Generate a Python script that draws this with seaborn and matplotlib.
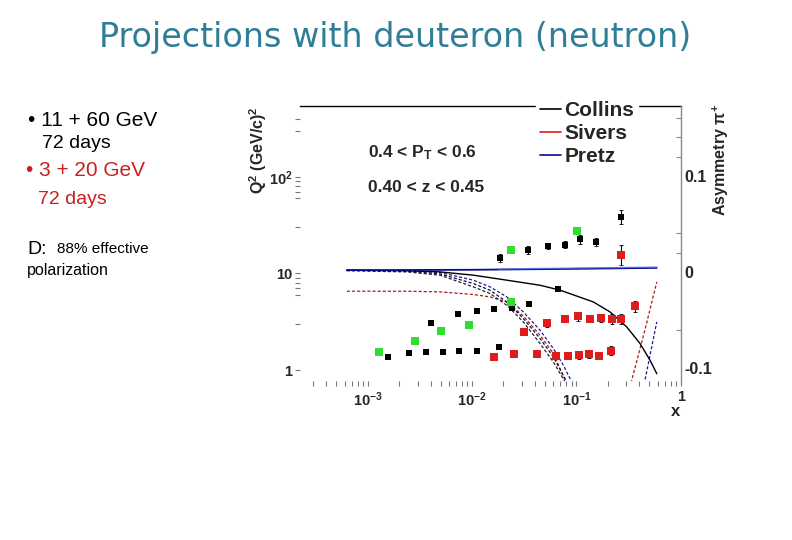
import numpy as np
import matplotlib
matplotlib.use("Agg")
import matplotlib.pyplot as plt
from matplotlib.ticker import FixedLocator, NullFormatter, LogLocator
from matplotlib.lines import Line2D
import seaborn as sns

# ---------------- data ----------------
# kinematic coverage <Q^2> vs x (left axis), no error bars
cov_black_x = [0.00157, 0.00249, 0.00362, 0.00524, 0.0075, 0.01117, 0.0183,
               0.00402, 0.00734, 0.0111, 0.01625, 0.024, 0.0354, 0.0664]
cov_black_q2 = [1.36, 1.49, 1.52, 1.52, 1.57, 1.57, 1.74,
                3.08, 3.77, 4.08, 4.28, 4.38, 4.79, 6.94]
cov_green_x = [0.00129, 0.00284, 0.00508, 0.00942, 0.0237, 0.0237, 0.101]
cov_green_q2 = [1.52, 1.98, 2.51, 2.90, 5.05, 17.3, 27.4]

# projected asymmetries (right axis) with errors
asym_black_x = [0.0187, 0.0342, 0.0536, 0.0775, 0.109, 0.155, 0.267]
asym_black = [0.0146, 0.0226, 0.0268, 0.0285, 0.0338, 0.0312, 0.0573]
asym_black_err = [0.0045, 0.004, 0.003, 0.004, 0.0045, 0.0045, 0.007]

asym_red_x = [0.0316, 0.0527, 0.0775, 0.1045, 0.136, 0.174, 0.218, 0.270, 0.363, 0.268,
              0.01614, 0.0251, 0.0417, 0.0634, 0.0827, 0.107, 0.133, 0.164, 0.214]
asym_red = [-0.0621, -0.0534, -0.0486, -0.0461, -0.0486, -0.0483, -0.0493, -0.0493, -0.0357, 0.0174,
            -0.0889, -0.0857, -0.0857, -0.0871, -0.0871, -0.0868, -0.0857, -0.0871, -0.0819]
asym_red_err = [0.004, 0.004, 0.004, 0.0045, 0.004, 0.004, 0.005, 0.005, 0.0055, 0.0104,
                0.003, 0.003, 0.002, 0.003, 0.004, 0.004, 0.004, 0.004, 0.005]

# model curves (right axis)
collins_x = [0.00063, 0.00237, 0.00493, 0.01028, 0.02153, 0.0449, 0.0698, 0.1456, 0.2104,
             0.304, 0.408, 0.509, 0.590]
collins_a = [0.0018, 0.0012, 0.0000, -0.0034, -0.0086, -0.0139, -0.019, -0.0313, -0.0417,
             -0.0573, -0.0746, -0.092, -0.1059]
pretz_x = [0.00063, 0.01, 0.1, 0.590]
pretz_a = [0.0018, 0.0022, 0.0032, 0.0042]
pretz_hi_x = [0.018, 0.1, 0.59]
pretz_hi_a = [0.0030, 0.0040, 0.0050]

dash_blue_x = [0.00063, 0.00237, 0.00493, 0.01028, 0.01489, 0.02153, 0.03105, 0.04487,
               0.06023, 0.07506, 0.0903]
dash_blue_a = [0.0018, 0.0012, -0.0006, -0.0086, -0.0156, -0.0260, -0.0417, -0.0607,
               -0.0798, -0.0972, -0.1146]
dash_black1_x = [0.00063, 0.00237, 0.00493, 0.01028, 0.01489, 0.02153, 0.03105, 0.04487,
                 0.06023, 0.08088]
dash_black1_a = [0.0018, 0.0008, -0.0021, -0.0121, -0.0191, -0.0313, -0.0485, -0.0694,
                 -0.0885, -0.1146]
dash_black2_x = [0.00063, 0.00237, 0.00493, 0.01028, 0.01489, 0.02153, 0.03105, 0.04487,
                 0.06023, 0.0780]
dash_black2_a = [0.0012, 0.0000, -0.0034, -0.0156, -0.0225, -0.0347, -0.0521, -0.0746,
                 -0.0938, -0.1146]
dash_red_x = [0.00063, 0.00237, 0.00493, 0.01028, 0.01489, 0.02153, 0.03105, 0.04487,
              0.06023, 0.0795]
dash_red_a = [-0.0201, -0.0201, -0.0208, -0.0235, -0.0260, -0.0313, -0.0460, -0.0660,
              -0.0850, -0.1146]
dash_red_r_x = [0.334, 0.45, 0.590]
dash_red_r_a = [-0.1156, -0.062, -0.0104]
dash_blue_r_x = [0.446, 0.590]
dash_blue_r_a = [-0.117, -0.052]

xticks = [1e-3, 1e-2, 1e-1, 1]
xtick_labels = [r'$10^{-3}$', r'$10^{-2}$', r'$10^{-1}$', '1']
q2_ticks = [1, 10, 100]
q2_labels = ['1', '10', r'$10^{2}$']
q2_minor = [3, 6, 7, 8, 9, 30, 60, 70, 80, 90, 300, 400]
a_ticks = [-0.1, 0, 0.1]
a_labels = ['-0.1', '0', '0.1']
a_minor = [-0.06, 0.02, 0.04, 0.12, 0.14, 0.16]
legend_labels = ['Collins', 'Sivers', 'Pretz']

# ---------------- style ----------------
sns.set_style("white")
plt.rcParams['font.family'] = ['Liberation Sans', 'DejaVu Sans']
plt.rcParams['mathtext.fontset'] = 'custom'
plt.rcParams['mathtext.rm'] = 'Liberation Sans:bold'
plt.rcParams['mathtext.bf'] = 'Liberation Sans:bold'
plt.rcParams['mathtext.it'] = 'Liberation Sans:bold'
plt.rcParams['mathtext.default'] = 'bf'

W, H = 792, 540
fig = plt.figure(figsize=(W / 100, H / 100), dpi=100)
fig.patch.set_facecolor('white')

def fx(X):
    return X / W

def fy(Y):
    return 1 - Y / H

ax_left, ax_right, ax_top, ax_bot = 300, 680.7, 106, 381
ax = fig.add_axes([fx(ax_left), fy(ax_bot), fx(ax_right - ax_left), (ax_bot - ax_top) / H])
ax.set_facecolor('none')
ax.set_xscale('log')
ax.set_yscale('log')
ax.set_xlim(2.24e-4, 1.0)
ax.set_ylim(0.77, 539)

ax2 = ax.twinx()
ax2.set_ylim(-0.1135, 0.1726)

RED = '#dd1c1c'
GREEN = '#2ee02e'
NAVY = '#0a0a8c'

# curves
dash = (0, (2.5, 1.6))
sns.lineplot(x=dash_red_x, y=dash_red_a, ax=ax2, color='#b01818', lw=0.9, linestyle=dash,
             sort=False, estimator=None)
sns.lineplot(x=dash_black2_x, y=dash_black2_a, ax=ax2, color='#202040', lw=0.9, linestyle=dash,
             sort=False, estimator=None)
sns.lineplot(x=dash_black1_x, y=dash_black1_a, ax=ax2, color='#101030', lw=0.9, linestyle=dash,
             sort=False, estimator=None)
sns.lineplot(x=dash_blue_x, y=dash_blue_a, ax=ax2, color='#1a1aa0', lw=0.9, linestyle=dash,
             sort=False, estimator=None)
sns.lineplot(x=dash_red_r_x, y=dash_red_r_a, ax=ax2, color='#b01818', lw=0.9, linestyle=dash,
             sort=False, estimator=None)
sns.lineplot(x=dash_blue_r_x, y=dash_blue_r_a, ax=ax2, color='#1a1aa0', lw=0.9, linestyle=dash,
             sort=False, estimator=None)
sns.lineplot(x=collins_x, y=collins_a, ax=ax2, color='black', lw=1.0,
             sort=False, estimator=None)
sns.lineplot(x=pretz_x, y=pretz_a, ax=ax2, color=NAVY, lw=1.3,
             sort=False, estimator=None)
sns.lineplot(x=pretz_hi_x, y=pretz_hi_a, ax=ax2, color='#5577ee', lw=1.0, alpha=0.8,
             sort=False, estimator=None)

# points
ax2.errorbar(asym_black_x, asym_black, yerr=asym_black_err, fmt='none', ecolor='black',
             elinewidth=0.8, capsize=1.2, capthick=0.6)
ax2.errorbar(asym_red_x, asym_red, yerr=asym_red_err, fmt='none', ecolor='black',
             elinewidth=0.8, capsize=1.2, capthick=0.6)
sns.scatterplot(x=asym_black_x, y=asym_black, ax=ax2, color='black', marker='s', s=24,
                linewidth=0, zorder=4)
sns.scatterplot(x=asym_red_x, y=asym_red, ax=ax2, color=RED, marker='s', s=26,
                linewidth=0, zorder=4)
sns.scatterplot(x=cov_black_x, y=cov_black_q2, ax=ax2, color='black', marker='s', s=24,
                linewidth=0, zorder=4, transform=ax.transData)
sns.scatterplot(x=cov_green_x, y=cov_green_q2, ax=ax2, color=GREEN, marker='s', s=26,
                linewidth=0, zorder=4, transform=ax.transData)
ax2.set_ylim(-0.1135, 0.1726)
ax.set_xlim(2.24e-4, 1.0)

# spines
for s in ['left', 'bottom', 'right']:
    ax.spines[s].set_visible(False)
ax.spines['top'].set_visible(True)
ax.spines['top'].set_color('black')
ax.spines['top'].set_linewidth(1.0)
for s in ['left', 'bottom', 'top']:
    ax2.spines[s].set_visible(False)
ax2.spines['right'].set_visible(True)
ax2.spines['right'].set_color('#888888')
ax2.spines['right'].set_linewidth(1.0)
ax.grid(False)
ax2.grid(False)

# x ticks
ax.set_xticks(xticks)
ax.set_xticklabels(xtick_labels)
ax.xaxis.set_minor_locator(LogLocator(base=10, subs=np.arange(2, 10)))
ax.xaxis.set_minor_formatter(NullFormatter())
ax.tick_params(axis='x', which='both', direction='out', bottom=True, top=False,
               length=3.6, width=0.8, color='#777777', pad=3, labelsize=10.5)
# left ticks
ax.set_yticks(q2_ticks)
ax.set_yticklabels(q2_labels)
ax.yaxis.set_minor_locator(FixedLocator(q2_minor))
ax.yaxis.set_minor_formatter(NullFormatter())
ax.tick_params(axis='y', which='both', direction='out', left=True, right=False,
               length=3.6, width=0.8, color='#777777', pad=2, labelsize=10.5)
for t in ax.get_xticklabels() + ax.get_yticklabels():
    t.set_fontweight('bold')
# right ticks
ax2.set_yticks(a_ticks)
ax2.set_yticklabels(a_labels)
ax2.yaxis.set_minor_locator(FixedLocator(a_minor))
ax2.tick_params(axis='y', which='major', length=0, pad=3, labelsize=11.5)
ax2.tick_params(axis='y', which='minor', direction='in', length=3.6, width=0.8, color='#888888')
for t in ax2.get_yticklabels():
    t.set_fontweight('bold')
ax2.set_ylabel('')
ax.set_ylabel('')
ax.set_xlabel('')

# legend
handles = [Line2D([], [], color='black', lw=1.2),
           Line2D([], [], color=RED, lw=1.2),
           Line2D([], [], color=NAVY, lw=1.2)]
leg = ax2.legend(handles, legend_labels, loc='upper left',
                 bbox_to_anchor=(fx(536), fy(97)), bbox_transform=fig.transFigure,
                 frameon=True, fancybox=False, framealpha=1, edgecolor='white',
                 facecolor='white', handlelength=1.0, handletextpad=0.15,
                 labelspacing=0.2, borderpad=0.2, borderaxespad=0,
                 prop={'weight': 'bold', 'size': 15})
leg.set_zorder(10)

# axis titles and annotations
fig.text(fx(258), fy(150), r'Q$^{2}$ (GeV/c)$^{2}$', rotation=90, ha='center', va='center',
         fontsize=11.5, fontweight='bold')
fig.text(fx(721), fy(160), r'Asymmetry $\pi^{+}$', rotation=90, ha='center', va='center',
         fontsize=11.5, fontweight='bold')
fig.text(fx(676), fy(412), 'x', ha='center', va='center', fontsize=12, fontweight='bold')
fig.text(fx(368), fy(153), r'0.4 < P$_{T}$ < 0.6', ha='left', va='center',
         fontsize=12.5, fontweight='bold')
fig.text(fx(368), fy(188), '0.40 < z < 0.45', ha='left', va='center',
         fontsize=12.5, fontweight='bold')

# slide title
fig.text(fx(395), fy(38), 'Projections with deuteron (neutron)', ha='center', va='center',
         fontsize=24, color='#2f7d96', family=['DejaVu Sans'])

# left panel text
TRED = '#c8201e'
fig.text(fx(28), fy(120), '\u2022 11 + 60 GeV', ha='left', va='center', fontsize=15, color='black')
fig.text(fx(42), fy(143), '72 days', ha='left', va='center', fontsize=14, color='black')
fig.text(fx(26), fy(170), '\u2022 3 + 20 GeV', ha='left', va='center', fontsize=15, color=TRED)
fig.text(fx(38), fy(199), '72 days', ha='left', va='center', fontsize=14, color=TRED)
fig.text(fx(27), fy(249), 'D:', ha='left', va='center', fontsize=14, color='black')
fig.text(fx(57), fy(249), '88% effective', ha='left', va='center', fontsize=11, color='black')
fig.text(fx(27), fy(271), 'polarization', ha='left', va='center', fontsize=11.5, color='black')

fig.savefig('out.png', dpi=100, facecolor='white')
